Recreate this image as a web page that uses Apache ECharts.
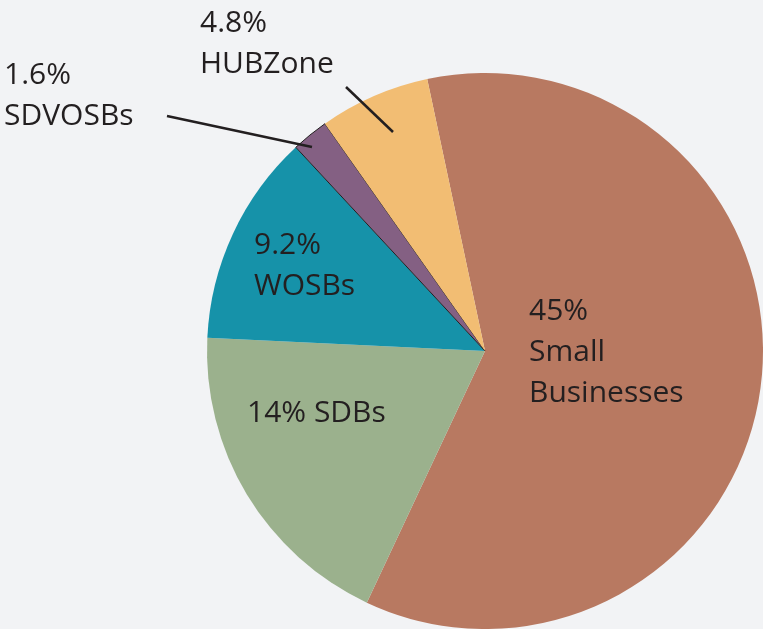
<!DOCTYPE html>
<html>
<head>
<meta charset="utf-8">
<script src="https://cdn.jsdelivr.net/npm/echarts@6/dist/echarts.min.js"></script>
<style>
    html, body { margin: 0; padding: 0; background: #f2f3f5; }
    #chart { width: 763px; height: 629px; }
</style>
</head>
<body>
<div id="chart"></div>
<script>
// Data (clockwise from the top)
const categories = ['Small Businesses', 'SDBs', 'WOSBs', 'SDVOSBs', 'HUBZone'];
const shares = [45, 14, 9.2, 1.6, 4.8];
const sliceColors = ['#b87961', '#9bb18d', '#1692a9', '#846083', '#f2bd73'];

// label text per slice
const labelTexts = ['45%\nSmall\nBusinesses', '14% SDBs', '9.2%\nWOSBs', '1.6%\nSDVOSBs', '4.8%\nHUBZone'];

// label placement (top-left of text block)
const labelSpots = [
    { x: 529, y: 291 },
    { x: 247, y: 393 },
    { x: 254, y: 225 },
    { x: 4, y: 55 },
    { x: 200, y: 3 }
];

// leader lines for the two small slices, drawn over the pie
const leaderLines = [
    [167, 116, 312, 147],
    [346, 87, 393, 132]
];

const chartDom = document.getElementById('chart');
const chart = echarts.init(chartDom);

const seriesData = categories.map((name, i) => ({
    name: name,
    value: shares[i],
    itemStyle: {
        color: sliceColors[i],
        borderColor: i === 3 ? '#231f20' : sliceColors[i],
        borderWidth: i === 3 ? 1 : 0
    },
    label: { formatter: labelTexts[i] }
}));

const option = {
    backgroundColor: '#f2f3f5',
    animation: false,
    graphic: leaderLines.map(l => ({
        type: 'line',
        z: 100,
        shape: { x1: l[0], y1: l[1], x2: l[2], y2: l[3] },
        style: { stroke: '#231f20', lineWidth: 2.5 }
    })),
    series: [
        {
            type: 'pie',
            center: [485, 351],
            radius: 278,
            startAngle: 102,
            clockwise: true,
            avoidLabelOverlap: false,
            data: seriesData,
            label: {
                show: true,
                position: 'inside',
                color: '#231f20',
                fontFamily: '"Open Sans", sans-serif',
                fontSize: 30,
                lineHeight: 41,
                align: 'left'
            },
            labelLine: { show: false },
            labelLayout: function (params) {
                const spot = labelSpots[params.dataIndex];
                return {
                    x: spot.x,
                    y: spot.y,
                    align: 'left',
                    verticalAlign: 'top'
                };
            },
            emphasis: { disabled: true }
        }
    ]
};

chart.setOption(option);
</script>
</body>
</html>
